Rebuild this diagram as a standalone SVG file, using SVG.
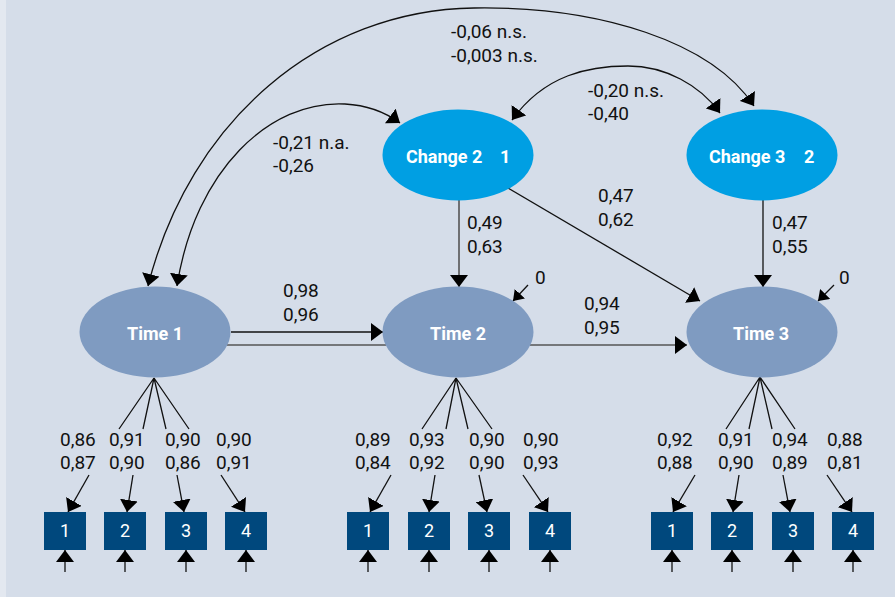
<svg xmlns="http://www.w3.org/2000/svg" width="895" height="597" viewBox="0 0 895 597">
<style>
.bg{fill:#d5dde9}
.chg{fill:#009fe3}
.tim{fill:#7f9bc1}
.box{fill:#00487d}
.ln{stroke:#111;stroke-width:1.3;fill:none}
.gl{stroke:#555;stroke-width:1.6;fill:none}
.lab{font-family:Roboto,"Liberation Sans",sans-serif;font-size:19px;fill:#111}
.nl{font-family:Roboto,"Liberation Sans",sans-serif;font-size:18px;font-weight:bold;fill:#fff}
.bl{font-family:Roboto,"Liberation Sans",sans-serif;font-size:18px;fill:#fff;text-anchor:middle}
</style>
<defs>
<marker id="ah" viewBox="0 0 12 18" refX="12" refY="9" markerWidth="12" markerHeight="18" markerUnits="userSpaceOnUse" orient="auto"><path d="M0,0 L12,9 L0,18 z" fill="#000"/></marker>
<marker id="as" viewBox="0 0 10 14" refX="10" refY="7" markerWidth="10" markerHeight="14" markerUnits="userSpaceOnUse" orient="auto"><path d="M0,0 L10,7 L0,14 z" fill="#000"/></marker>
</defs>
<rect class="bg" x="0" y="0" width="895" height="597"/>
<rect x="0" y="0" width="6" height="597" fill="#e3e8f0"/>

<g id="connectors">
<path class="ln" d="M474,8 C 600,6 712,42 754,106" marker-end="url(#ah)"/>
<path class="ln" d="M474,8 C 320,10 190,120 148,286" marker-end="url(#ah)"/>
<path class="ln" d="M345,104 C 270,100 195,170 177,286" marker-end="url(#ah)"/>
<path class="ln" d="M345,104 C 365,105 385,112 400,123" marker-end="url(#ah)"/>
<path class="ln" d="M628,66 C 590,66 545,74 512,120" marker-end="url(#ah)"/>
<path class="ln" d="M628,66 C 665,66 700,85 720,113" marker-end="url(#ah)"/>
<path class="gl" d="M459,200 L459,287" marker-end="url(#ah)"/>
<path class="ln" d="M763,200 L763,287" marker-end="url(#ah)"/>
<path class="ln" d="M508,188 L700,301" marker-end="url(#ah)"/>
<path class="ln" d="M231,332 L383,332" marker-end="url(#ah)"/>
<path class="gl" d="M227,345 L386,345"/>
<path class="gl" d="M530,345 L687,345" marker-end="url(#ah)"/>
<path class="ln" d="M528,285 L513,301" marker-end="url(#as)"/>
<path class="ln" d="M834,285 L818,301" marker-end="url(#as)"/>
<path class="ln" d="M154,378 L119,429 M154,378 L143,429 M154,378 L166,429 M154,378 L189,429"/>
<path class="ln" d="M89,475 L68,512" marker-end="url(#ah)"/>
<path class="ln" d="M133,475 L127,512" marker-end="url(#ah)"/>
<path class="ln" d="M177,475 L184,512" marker-end="url(#ah)"/>
<path class="ln" d="M221,475 L245,512" marker-end="url(#ah)"/>
<path class="ln" d="M456,378 L422,429 M456,378 L446,429 M456,378 L468,429 M456,378 L492,429"/>
<path class="ln" d="M391,475 L370,512" marker-end="url(#ah)"/>
<path class="ln" d="M435,475 L429,512" marker-end="url(#ah)"/>
<path class="ln" d="M479,475 L487,512" marker-end="url(#ah)"/>
<path class="ln" d="M523,475 L548,512" marker-end="url(#ah)"/>
<path class="ln" d="M760,377 L726,429 M760,377 L749,429 M760,377 L772,429 M760,377 L795,429"/>
<path class="ln" d="M695,475 L673,512" marker-end="url(#ah)"/>
<path class="ln" d="M739,475 L733,512" marker-end="url(#ah)"/>
<path class="ln" d="M783,475 L790,512" marker-end="url(#ah)"/>
<path class="ln" d="M827,475 L852,512" marker-end="url(#ah)"/>
<path class="ln" d="M65,572 L65,550" marker-end="url(#ah)"/>
<path class="ln" d="M125,572 L125,550" marker-end="url(#ah)"/>
<path class="ln" d="M186,572 L186,550" marker-end="url(#ah)"/>
<path class="ln" d="M246,572 L246,550" marker-end="url(#ah)"/>
<path class="ln" d="M368,572 L368,550" marker-end="url(#ah)"/>
<path class="ln" d="M429,572 L429,550" marker-end="url(#ah)"/>
<path class="ln" d="M489,572 L489,550" marker-end="url(#ah)"/>
<path class="ln" d="M550,572 L550,550" marker-end="url(#ah)"/>
<path class="ln" d="M672,572 L672,550" marker-end="url(#ah)"/>
<path class="ln" d="M732,572 L732,550" marker-end="url(#ah)"/>
<path class="ln" d="M793,572 L793,550" marker-end="url(#ah)"/>
<path class="ln" d="M853,572 L853,550" marker-end="url(#ah)"/>
</g>

<g id="labels" class="lab">
<text x="451" y="38">-0,06 n.s.</text>
<text x="451" y="62">-0,003 n.s.</text>
<text x="588" y="97">-0,20  n.s.</text>
<text x="588" y="120">-0,40</text>
<text x="273" y="149">-0,21 n.a.</text>
<text x="273" y="172">-0,26</text>
<text x="598" y="202">0,47</text>
<text x="598" y="226">0,62</text>
<text x="467" y="229">0,49</text>
<text x="467" y="253">0,63</text>
<text x="772" y="229">0,47</text>
<text x="772" y="253">0,55</text>
<text x="283" y="297">0,98</text>
<text x="283" y="321">0,96</text>
<text x="584" y="310">0,94</text>
<text x="584" y="334">0,95</text>
<text x="535" y="284">0</text>
<text x="839" y="284">0</text>
<text x="60" y="446">0,86</text><text x="60" y="469">0,87</text>
<text x="109" y="446">0,91</text><text x="109" y="469">0,90</text>
<text x="165" y="446">0,90</text><text x="165" y="469">0,86</text>
<text x="216" y="446">0,90</text><text x="216" y="469">0,91</text>
<text x="355" y="446">0,89</text><text x="355" y="469">0,84</text>
<text x="409" y="446">0,93</text><text x="409" y="469">0,92</text>
<text x="469" y="446">0,90</text><text x="469" y="469">0,90</text>
<text x="523" y="446">0,90</text><text x="523" y="469">0,93</text>
<text x="657" y="446">0,92</text><text x="657" y="469">0,88</text>
<text x="718" y="446">0,91</text><text x="718" y="469">0,90</text>
<text x="772" y="446">0,94</text><text x="772" y="469">0,89</text>
<text x="827" y="446">0,88</text><text x="827" y="469">0,81</text>
</g>

<g id="change2"><ellipse class="chg" cx="458" cy="155" rx="75.5" ry="45.5"/><text class="nl" y="163"><tspan x="406">Change 2</tspan><tspan x="500">1</tspan></text></g>
<g id="change3"><ellipse class="chg" cx="762" cy="155" rx="75.5" ry="45.5"/><text class="nl" y="163"><tspan x="709">Change 3</tspan><tspan x="804">2</tspan></text></g>
<g id="time1"><ellipse class="tim" cx="155" cy="332" rx="75.5" ry="45.5"/><text class="nl" x="155" y="340" text-anchor="middle">Time 1</text></g>
<g id="time2"><ellipse class="tim" cx="458" cy="332" rx="75.5" ry="45.5"/><text class="nl" x="458" y="340" text-anchor="middle">Time 2</text></g>
<g id="time3"><ellipse class="tim" cx="762" cy="332" rx="75.5" ry="45.5"/><text class="nl" x="761" y="340" text-anchor="middle">Time 3</text></g>

<g id="t1i1"><rect class="box" x="44" y="512" width="42" height="38"/><text class="bl" x="65" y="537">1</text></g>
<g id="t1i2"><rect class="box" x="104" y="512" width="42" height="38"/><text class="bl" x="125" y="537">2</text></g>
<g id="t1i3"><rect class="box" x="165" y="512" width="42" height="38"/><text class="bl" x="186" y="537">3</text></g>
<g id="t1i4"><rect class="box" x="225" y="512" width="42" height="38"/><text class="bl" x="246" y="537">4</text></g>
<g id="t2i1"><rect class="box" x="347" y="512" width="42" height="38"/><text class="bl" x="368" y="537">1</text></g>
<g id="t2i2"><rect class="box" x="408" y="512" width="42" height="38"/><text class="bl" x="429" y="537">2</text></g>
<g id="t2i3"><rect class="box" x="468" y="512" width="42" height="38"/><text class="bl" x="489" y="537">3</text></g>
<g id="t2i4"><rect class="box" x="529" y="512" width="42" height="38"/><text class="bl" x="550" y="537">4</text></g>
<g id="t3i1"><rect class="box" x="651" y="512" width="42" height="38"/><text class="bl" x="672" y="537">1</text></g>
<g id="t3i2"><rect class="box" x="711" y="512" width="42" height="38"/><text class="bl" x="732" y="537">2</text></g>
<g id="t3i3"><rect class="box" x="772" y="512" width="42" height="38"/><text class="bl" x="793" y="537">3</text></g>
<g id="t3i4"><rect class="box" x="832" y="512" width="42" height="38"/><text class="bl" x="853" y="537">4</text></g>
</svg>
